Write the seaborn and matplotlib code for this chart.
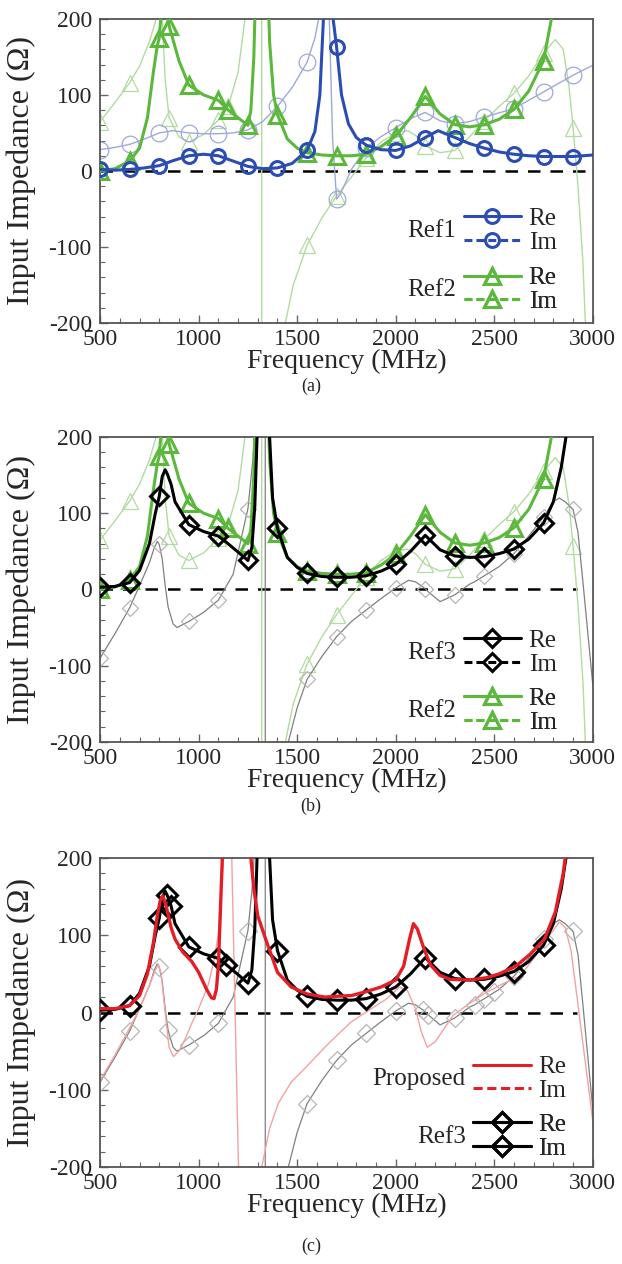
import matplotlib
matplotlib.use("Agg")
import matplotlib.pyplot as plt
from matplotlib.lines import Line2D
from matplotlib.ticker import MultipleLocator
import seaborn as sns
import pandas as pd

# Values: frequency (MHz) and impedance (ohm).
# Off-scale entries (>200 or <-200) only mark where a curve leaves the frame.

ref1_re_f = [500, 575, 650, 725, 800, 875, 950, 1025, 1100, 1175, 1250, 1325, 1400, 1475, 1550, 1590, 1615,
             1635, 1655, 1680, 1700, 1725, 1760, 1800, 1850, 1925, 2000, 2075, 2150, 2215, 2300, 2375, 2450,
             2525, 2600, 2675, 2750, 2825, 2900, 3000]
ref1_re_z = [2, 1, 2, 4, 7, 14, 20, 22, 20, 13, 6, 3, 4, 10, 27, 52, 100,
             210, 300, 205, 163, 100, 62, 44, 34, 28, 27, 33, 44, 53, 44, 36, 30,
             25, 22, 20, 19, 19, 19, 21]

ref1_im_f = [500, 575, 650, 725, 800, 870, 950, 1025, 1100, 1175, 1250, 1325, 1400, 1475, 1550, 1590, 1620,
             1640, 1655, 1665, 1680, 1700, 1720, 1775, 1850, 1925, 2000, 2075, 2150, 2225, 2300, 2375, 2450,
             2600, 2750, 2900, 3000]
ref1_im_z = [28, 31, 35, 42, 50, 53, 50, 49, 49, 50, 54, 65, 85, 110, 143, 175, 215,
             300, 300, 180, 40, -37, -30, 2, 30, 45, 57, 69, 77, 66, 62, 65, 71,
             82, 104, 126, 139]

ref2_re_f = [500, 575, 650, 700, 740, 770, 790, 800, 812, 825, 840, 850, 900, 950, 1025, 1100, 1150, 1200,
             1250, 1265, 1280, 1295, 1320, 1345, 1360, 1380, 1400, 1450, 1500, 1550, 1625, 1700, 1775, 1850,
             1925, 2000, 2075, 2150, 2225, 2300, 2375, 2450, 2525, 2600, 2675, 2750, 2790, 2830]
ref2_re_z = [0, 3, 13, 30, 70, 130, 165, 175, 215, 225, 205, 191, 145, 113, 100, 93, 80, 70,
             60, 80, 150, 300, 400, 300, 170, 100, 74, 42, 30, 24, 21, 20, 20, 22,
             32, 46, 70, 98, 75, 61, 58, 61, 68, 81, 105, 145, 200, 300]

ref2_im_f = [500, 575, 650, 700, 750, 790, 800, 810, 830, 850, 900, 950, 1025, 1100, 1150, 1200, 1235, 1250,
             1300, 1319, 1321, 1400, 1440, 1480, 1550, 1625, 1700, 1775, 1850, 1925, 2000, 2060, 2100, 2150,
             2225, 2300, 2375, 2450, 2525, 2600, 2675, 2750, 2810, 2850, 2880, 2900, 2925, 2950, 2970]
ref2_im_z = [65, 90, 116, 138, 170, 205, 260, 230, 120, 70, 45, 38, 48, 67, 85, 130, 200, 240,
             500, 3000, -3000, -300, -200, -150, -98, -62, -33, -8, 17, 38, 50, 53, 47, 33,
             24, 27, 45, 66, 85, 102, 125, 155, 173, 160, 110, 57, -20, -120, -250]

ref3_re_f = [500, 575, 650, 700, 750, 780, 800, 815, 830, 840, 860, 880, 950, 1025, 1100, 1140, 1200, 1250,
             1270, 1285, 1300, 1320, 1345, 1360, 1375, 1400, 1450, 1500, 1550, 1625, 1700, 1775, 1850, 1925,
             2000, 2075, 2150, 2225, 2300, 2375, 2450, 2525, 2600, 2675, 2750, 2800, 2840, 2870, 2890]
ref3_re_z = [3, 4, 9, 25, 60, 100, 122, 148, 157, 152, 138, 115, 85, 76, 70, 62, 49, 38,
             55, 110, 230, 500, 300, 200, 120, 80, 42, 29, 21, 17, 16, 16, 18, 24,
             33, 50, 71, 52, 44, 42, 43, 47, 53, 66, 87, 115, 160, 210, 280]

ref3_im_f = [500, 575, 650, 700, 750, 775, 790, 800, 815, 830, 845, 870, 890, 950, 1025, 1100, 1175, 1250,
             1275, 1300, 1337, 1339, 1430, 1455, 1500, 1550, 1625, 1700, 1775, 1850, 1925, 2000, 2065, 2100,
             2140, 2150, 2165, 2225, 2300, 2375, 2400, 2450, 2500, 2525, 2600, 2675, 2750, 2800, 2830, 2860,
             2900, 2925, 2950, 3000]
ref3_im_z = [-90, -58, -24, 5, 35, 55, 63, 59, 40, 5, -23, -45, -50, -42, -30, -14, 20, 106,
             170, 300, 3000, -3000, -300, -200, -155, -118, -88, -62, -42, -27, -12, 2, 12, 10,
             3, 1, -3, -16, -7, 7, 10, 18, 26, 30, 47, 70, 95, 115, 120, 115,
             105, 75, 10, -125]

prop_re_f = [500, 575, 650, 700, 740, 770, 790, 805, 818, 835, 860, 880, 920, 965, 1000, 1040, 1065, 1078,
             1090, 1100, 1110, 1120, 1135, 1190, 1250, 1265, 1280, 1300, 1340, 1400, 1470, 1550, 1640, 1700,
             1775, 1850, 1925, 2000, 2040, 2070, 2090, 2110, 2140, 2175, 2225, 2275, 2375, 2460, 2525, 2610,
             2680, 2755, 2810, 2850, 2870]
prop_re_z = [5, 5, 9, 22, 50, 90, 125, 145, 151, 138, 110, 95, 78, 66, 52, 30, 19, 18,
             30, 60, 130, 200, 300, 400, 300, 200, 160, 125, 95, 52, 33, 24, 20, 21,
             22, 27, 33, 42, 60, 95, 115, 108, 85, 62, 48, 43, 42, 45, 50, 60,
             75, 95, 130, 180, 220]

prop_im_f = [500, 575, 650, 700, 750, 780, 795, 810, 830, 850, 872, 900, 930, 965, 1000, 1050, 1080, 1100,
             1126, 1145, 1168, 1185, 1202, 1260, 1320, 1360, 1405, 1470, 1540, 1640, 1700, 1775, 1870, 1950,
             2020, 2060, 2100, 2130, 2160, 2200, 2290, 2375, 2460, 2550, 2630, 2700, 2780, 2830, 2860, 2890,
             2920, 2960, 3000]
prop_im_z = [-88, -55, -20, 5, 35, 55, 62, 50, 0, -45, -57, -50, -35, -14, 5, 37, 70, 102,
             200, 300, 200, 0, -200, -400, -200, -150, -117, -90, -72, -45, -30, -12, 4, 17,
             33, 28, 5, -25, -45, -38, -4, 12, 26, 38, 47, 70, 100, 117, 110, 80,
             20, -60, -140]

# where the symbols sit on each curve
ref1_marks = [500, 650, 800, 950, 1100, 1250, 1400, 1550, 1700, 1850, 2000, 2150, 2300, 2450, 2600, 2750, 2900]
ref2_marks = [500, 650, 800, 850, 950, 1100, 1150, 1250, 1400, 1550, 1700, 1850, 2000, 2150, 2300, 2450, 2600, 2750]
ref2_im_marks = ref2_marks + [2900]
ref3_re_marks_b = [500, 650, 800, 950, 1100, 1250, 1400, 1550, 1700, 1850, 2000, 2150, 2300, 2450, 2600, 2750]
ref3_im_marks_b = [500, 650, 800, 950, 1100, 1250, 1550, 1700, 1850, 2000, 2150, 2300, 2450, 2600, 2750, 2900]
ref3_re_marks_c = [500, 650, 800, 840, 860, 950, 1100, 1140, 1250, 1400, 1550, 1700, 1850, 2000, 2150, 2300,
                   2450, 2600, 2750]
ref3_im_marks_c = [500, 650, 800, 845, 950, 1100, 1250, 1550, 1700, 1850, 2000, 2140, 2165, 2300, 2400, 2450,
                   2500, 2600, 2750, 2900]

zero_end = [3000, 2920, 2920]

BLUE = "#2b4db3"
BLUE_L = "#9ea8dc"
GREEN = "#5cb83c"
GREEN_L = "#b2dba0"
RED = "#e41e26"
RED_L = "#f2a2a2"
GREY = "#808080"
GREY_M = "#b5b5b5"

FS_TICK = 17
FS_LEG = 18


def draw(ax, f, z, color, lw, marks=None, marker=None, ms=10, mec=None, mew=1.8, zorder=2):
	df = pd.DataFrame({"f": f, "z": z})
	kw = dict(color=color, linewidth=lw, zorder=zorder)
	if marks is not None:
		idx = [i for i, v in enumerate(f) if v in marks]
		kw.update(marker=marker, markevery=idx, markersize=ms, markerfacecolor="none",
				  markeredgecolor=mec or color, markeredgewidth=mew)
	sns.lineplot(data=df, x="f", y="z", ax=ax, estimator=None, sort=False, **kw)


def group_legend(ax, name, color, marker, y, x=0.738, ms=10, im_ls=(0, (2.6, 1.3)), mark_im=True):
	h_re = Line2D([], [], color=color, lw=2.2, marker=marker, ms=ms, mfc="none", mew=2.2)
	h_im = Line2D([], [], color=color, lw=2.2, ls=im_ls, marker=marker if mark_im else None,
				  ms=ms, mfc="none", mew=2.2)
	leg = ax.legend([h_re, h_im], ["Re", "Im"], loc="center left", bbox_to_anchor=(x, y),
					frameon=False, fontsize=FS_LEG, handlelength=2.3, handletextpad=0.3,
					labelspacing=0.05, borderpad=0, borderaxespad=0)
	ax.add_artist(leg)
	ax.text(x - 0.015, y, name, transform=ax.transAxes, ha="right", va="center", fontsize=FS_LEG)


def style_axes(ax, zend):
	ax.plot([500, zend], [0, 0], color="black", lw=1.8, ls=(0, (5, 4)), zorder=1.5)
	ax.set_xlim(500, 3000)
	ax.set_ylim(-200, 200)
	ax.xaxis.set_major_locator(MultipleLocator(500))
	ax.xaxis.set_minor_locator(MultipleLocator(100))
	ax.yaxis.set_major_locator(MultipleLocator(100))
	ax.yaxis.set_minor_locator(MultipleLocator(20))
	ax.tick_params(which="both", direction="in", top=False, right=False, color="#666666",
				   labelsize=FS_TICK)
	ax.tick_params(axis="x", pad=4)
	ax.tick_params(axis="y", pad=6)
	ax.tick_params(which="major", length=6, width=1)
	ax.tick_params(which="minor", length=3.5, width=0.8)
	for sp in ax.spines.values():
		sp.set_color("#555555")
		sp.set_linewidth(1.3)
	ax.set_xlabel("Frequency (MHz)", fontsize=20)
	ax.set_ylabel("Input Impedance (Ω)", fontsize=23)
	ax.xaxis.set_label_coords(0.5, -0.084)
	ax.yaxis.set_label_coords(-0.13, 0.5)


sns.set_theme(style="ticks")
plt.rcParams["font.family"] = ["Liberation Serif", "DejaVu Serif"]
plt.rcParams["axes.unicode_minus"] = False

fig = plt.figure(figsize=(6.22, 12.64), dpi=100)
ax_a = fig.add_axes([0.161, 0.7445, 0.792, 0.2405])
ax_b = fig.add_axes([0.161, 0.4130, 0.792, 0.2413])
ax_c = fig.add_axes([0.161, 0.0767, 0.792, 0.2445])

# (a) Ref1 vs Ref2
draw(ax_a, ref2_im_f, ref2_im_z, GREEN_L, 1.0, ref2_im_marks, "^", 11, GREEN_L, 0.9, zorder=2)
draw(ax_a, ref1_im_f, ref1_im_z, BLUE_L, 1.0, ref1_marks, "o", 12, BLUE_L, 0.9, zorder=2.1)
draw(ax_a, ref2_re_f, ref2_re_z, GREEN, 2.2, ref2_marks, "^", 11, GREEN, 2.2, zorder=3)
draw(ax_a, ref1_re_f, ref1_re_z, BLUE, 2.2, ref1_marks, "o", 10, BLUE, 2.2, zorder=4)
style_axes(ax_a, zero_end[0])
group_legend(ax_a, "Ref1", BLUE, "o", 0.304)
group_legend(ax_a, "Ref2", GREEN, "^", 0.108, ms=11)

# (b) Ref3 vs Ref2
draw(ax_b, ref2_im_f, ref2_im_z, GREEN_L, 1.0, ref2_im_marks, "^", 11, GREEN_L, 0.9, zorder=2)
draw(ax_b, ref3_im_f, ref3_im_z, GREY, 0.9, ref3_im_marks_b, "D", 8, GREY_M, 0.9, zorder=2.1)
draw(ax_b, ref2_re_f, ref2_re_z, GREEN, 2.2, ref2_marks, "^", 11, GREEN, 2.2, zorder=3)
draw(ax_b, ref3_re_f, ref3_re_z, "black", 2.2, ref3_re_marks_b, "D", 9, "black", 2.2, zorder=4)
style_axes(ax_b, zero_end[1])
group_legend(ax_b, "Ref3", "black", "D", 0.293, ms=9)
group_legend(ax_b, "Ref2", GREEN, "^", 0.102, ms=11)

# (c) Proposed vs Ref3
draw(ax_c, ref3_im_f, ref3_im_z, GREY, 0.9, ref3_im_marks_c, "D", 9, GREY_M, 0.9, zorder=2)
draw(ax_c, prop_im_f, prop_im_z, RED_L, 1.0, zorder=2.1)
draw(ax_c, ref3_re_f, ref3_re_z, "black", 2.2, ref3_re_marks_c, "D", 10, "black", 2.2, zorder=3)
draw(ax_c, prop_re_f, prop_re_z, RED, 2.4, zorder=4)
style_axes(ax_c, zero_end[2])
group_legend(ax_c, "Proposed", RED, None, 0.285, x=0.757, im_ls=(0, (3, 1.5)))
group_legend(ax_c, "Ref3", "black", "D", 0.098, x=0.757, ms=10, im_ls="-")

fig.text(0.5, 1 - 386 / 1264, "(a)", ha="center", va="center", fontsize=13)
fig.text(0.5, 1 - 806 / 1264, "(b)", ha="center", va="center", fontsize=13)
fig.text(0.5, 1 - 1246 / 1264, "(c)", ha="center", va="center", fontsize=13)

fig.savefig("out.png", dpi=100)
